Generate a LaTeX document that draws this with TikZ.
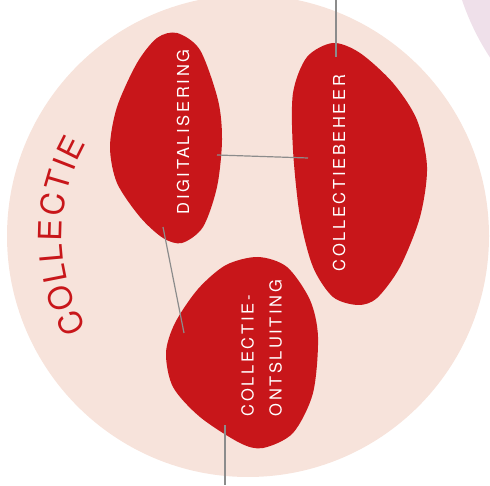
\documentclass[tikz,border=0pt]{standalone}
\usepackage{fontspec}
\setmainfont{TeX Gyre Heros}
\newfontfamily\spaced[LetterSpace=16]{TeX Gyre Heros}
\usepackage{xcolor}
\usepackage{tikz}
\usetikzlibrary{positioning}

\definecolor{peach}{RGB}{247,227,219}
\definecolor{lilac}{RGB}{239,224,234}
\definecolor{cred}{RGB}{200,22,26}
\definecolor{wire}{RGB}{140,140,140}

\begin{document}
\begin{tikzpicture}[x=1pt,y=1pt,
  blob/.style={fill=cred,draw=none},
  lbl/.style={text=white,rotate=90,inner sep=0pt,font=\fontsize{16.5}{28}\selectfont\spaced},
  link/.style={draw=wire,line width=1.2pt}]
  \useasboundingbox (0,0) rectangle (490,485);
  \clip (0,0) rectangle (490,485);

  % background discs
  \fill[lilac] (700,565) circle (251);
  \fill[peach] (248,249) circle (241);

  % blobs
  \fill[blob] plot[smooth cycle] coordinates {(177,452) (200,435) (218,385) (222,345) (217,298) (203,258) (182,242) (163,247) (140,268) (117,302) (110,338) (117,378) (137,422) (157,447)};
  \fill[blob] plot[smooth cycle] coordinates {(333,442) (360,432) (393,402) (417,365) (427,318) (420,268) (400,218) (377,187) (358,180) (333,188) (313,218) (300,268) (293,335) (293,392) (307,428)};
  \fill[blob] plot[smooth cycle] coordinates {(258,228) (287,218) (310,185) (318,148) (313,92) (293,52) (263,37) (240,42) (200,68) (173,98) (166,132) (175,162) (198,196) (226,220)};

  \node[lbl] (dig) at (183,353) {DIGITALISERING};
  \node[lbl] (beh) at (339,312) {COLLECTIEBEHEER};
  \node[lbl,align=left] (ont) at (261.5,137) {COLLECTIE-\\ONTSLUITING};

  % connectors
  \coordinate (beh-top) at (336,485);
  \coordinate (beh-in) at (336,428);
  \coordinate (dig-r) at (217,330);
  \coordinate (beh-l) at (308,327);
  \coordinate (dig-b) at (163,258);
  \coordinate (ont-t) at (184,152);
  \coordinate (ont-b) at (225,60);
  \coordinate (ont-out) at (225,0);
  \draw[link] (beh-top) -- (beh-in);
  \draw[link] (dig-r) -- (beh-l);
  \draw[link] (dig-b) -- (ont-t);
  \draw[link] (ont-b) -- (ont-out);

  % curved title
  \begin{scope}[shift={(248,249)}]
    \foreach \ch/\ang [count=\i] in {C/206.3,O/198.3,L/191.1,L/185.0,E/178.4,C/170.9,T/163.7,I/158.7,E/153.4}
      \node[text=cred,font=\fontsize{32}{32}\selectfont,rotate=\ang-90,anchor=base,inner sep=0pt] (t\i) at (\ang:186) {\ch};
  \end{scope}
\end{tikzpicture}
\end{document}
